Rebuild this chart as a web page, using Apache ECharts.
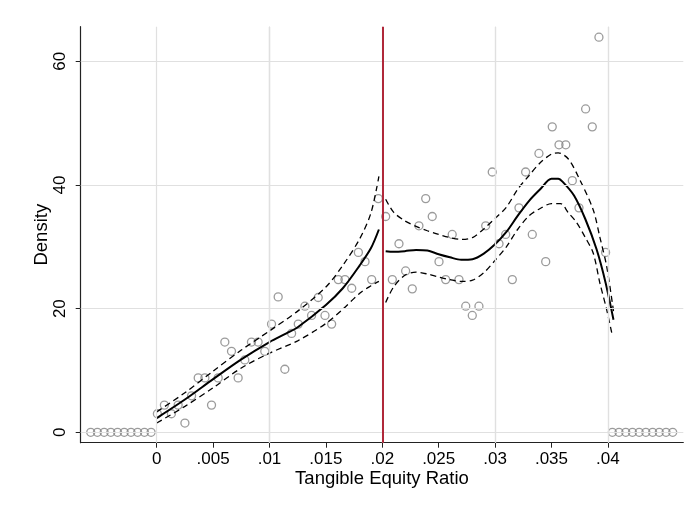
<!DOCTYPE html>
<html>
<head>
<meta charset="utf-8">
<script src="https://cdn.jsdelivr.net/npm/echarts@6/dist/echarts.min.js"></script>
<style>
html,body{margin:0;padding:0;background:#fff;}
#chart{width:690px;height:508px;}
</style>
</head>
<body>
<div id="chart"></div>
<script>
// ---- data ----
const xTicks = [0, 0.005, 0.01, 0.015, 0.02, 0.025, 0.03, 0.035, 0.04];
const xTickLabels = ['0', '.005', '.01', '.015', '.02', '.025', '.03', '.035', '.04'];
const yTicks = [0, 20, 40, 60];
const cutoff = 0.02;

const binX = [
  -0.00585, -0.00526, -0.00466, -0.00407, -0.00347, -0.00288, -0.00228, -0.00169, -0.00109, -0.0005,
  0.00006, 0.00068, 0.00130, 0.00190, 0.00250, 0.00309, 0.00368, 0.00427, 0.00486, 0.00545,
  0.00604, 0.00663, 0.00722, 0.00781, 0.00840, 0.00899, 0.00958, 0.01018, 0.01077, 0.01136,
  0.01196, 0.01255, 0.01314, 0.01373, 0.01432, 0.01492, 0.01551, 0.01610, 0.01669, 0.01729,
  0.01788, 0.01847, 0.01906, 0.01965,
  0.02030, 0.02089, 0.02148, 0.02207, 0.02266, 0.02325, 0.02385, 0.02443, 0.02503, 0.02562,
  0.02620, 0.02680, 0.02740, 0.02798, 0.02857, 0.02917, 0.02975, 0.03035, 0.03094, 0.03153,
  0.03212, 0.03271, 0.03330, 0.03389, 0.03449, 0.03507, 0.03567, 0.03627, 0.03685, 0.03744,
  0.03803, 0.03862, 0.03921, 0.03980,
  0.04040, 0.04099, 0.04159, 0.04218, 0.04278, 0.04337, 0.04397, 0.04456, 0.04516, 0.04575
];
const binY = [
  0, 0, 0, 0, 0, 0, 0, 0, 0, 0,
  3.0, 4.4, 3.0, 4.4, 1.5, 5.9, 8.8, 8.8, 4.4, 8.8,
  14.6, 13.1, 8.8, 11.7, 14.6, 14.6, 13.1, 17.5, 21.9, 10.2,
  16.0, 17.5, 20.4, 18.9, 21.8, 18.9, 17.5, 24.7, 24.7, 23.3,
  29.1, 27.6, 24.7, 37.8,
  34.9, 24.7, 30.5, 26.1, 23.2, 33.4, 37.8, 34.9, 27.6, 24.7,
  32.0, 24.7, 20.4, 18.9, 20.4, 33.4, 42.1, 30.5, 32.0, 24.7,
  36.3, 42.1, 32.0, 45.1, 27.6, 49.4, 46.5, 46.5, 40.7, 36.3,
  52.3, 49.4, 63.9, 29.1,
  0, 0, 0, 0, 0, 0, 0, 0, 0, 0
];

// left-of-cutoff fit and confidence band
const leftFitX   = [0, 0.0025, 0.005, 0.0075, 0.01, 0.0115, 0.0125, 0.015, 0.0165, 0.018, 0.019, 0.0197];
const leftFitY   = [2.3, 5.3, 8.6, 11.8, 14.6, 16.0, 17.0, 20.6, 23.3, 27.0, 29.8, 32.8];
const leftUpX    = [0, 0.0025, 0.005, 0.0075, 0.01, 0.0125, 0.015, 0.0165, 0.018, 0.019, 0.0197];
const leftUpY    = [3.3, 6.4, 9.9, 13.3, 16.4, 19.6, 23.5, 27.0, 31.3, 35.5, 41.4];
const leftLoY    = [1.5, 4.2, 7.2, 10.4, 12.8, 14.8, 17.6, 19.9, 22.5, 23.7, 24.4];

// right-of-cutoff fit and confidence band
const rightFitX  = [0.0203, 0.021, 0.022, 0.023, 0.024, 0.025, 0.026, 0.027, 0.028, 0.029, 0.030, 0.031, 0.032, 0.033, 0.034, 0.035, 0.0356, 0.036, 0.037, 0.038, 0.039, 0.0398, 0.0405];
const rightFitY  = [29.3, 29.2, 29.3, 29.5, 29.4, 28.8, 28.3, 27.9, 28.0, 28.9, 30.4, 32.4, 35.0, 37.4, 39.3, 41.0, 41.0, 40.5, 38.3, 34.5, 29.6, 24.2, 18.2];
const rightUpX   = [0.0203, 0.021, 0.022, 0.023, 0.024, 0.025, 0.026, 0.027, 0.028, 0.029, 0.030, 0.031, 0.032, 0.033, 0.034, 0.035, 0.0356, 0.0365, 0.0375, 0.0387, 0.0393, 0.0399, 0.0405];
const rightUpY   = [37.7, 35.6, 34.2, 33.3, 32.6, 32.0, 31.5, 31.2, 31.5, 32.9, 34.6, 36.4, 39.3, 41.5, 43.6, 45.0, 45.2, 44.2, 40.9, 36.0, 31.5, 26.8, 19.6];
const rightLoX   = [0.0203, 0.021, 0.022, 0.023, 0.024, 0.025, 0.026, 0.027, 0.028, 0.029, 0.030, 0.031, 0.032, 0.033, 0.034, 0.035, 0.0358, 0.0365, 0.0372, 0.038, 0.0387, 0.0393, 0.0399, 0.0404];
const rightLoY   = [21.0, 23.5, 25.4, 25.9, 25.6, 25.1, 24.7, 24.4, 24.6, 25.8, 27.8, 30.0, 32.8, 35.0, 36.2, 37.0, 37.0, 35.5, 34.0, 31.5, 29.0, 24.1, 19.8, 15.6];

// ---- build ----
const zip = (xs, ys) => xs.map((x, i) => [x, ys[i]]);
const FONT = '"Liberation Sans", Arial, sans-serif';

const gridLines = [];
yTicks.forEach(v => gridLines.push({ yAxis: v }));
xTicks.forEach(v => gridLines.push({ xAxis: v }));

const dashStyle = { color: '#000', width: 1.3, type: [6, 4] };

const chart = echarts.init(document.getElementById('chart'), null, { renderer: 'canvas' });
chart.setOption({
  animation: false,
  backgroundColor: '#fff',
  grid: { left: 80.7, right: 6.7, top: 26.7, bottom: 65.3, containLabel: false },
  xAxis: {
    type: 'value',
    min: -0.00674,
    max: 0.04669,
    name: 'Tangible Equity Ratio',
    nameLocation: 'middle',
    nameGap: 27,
    nameMoveOverlap: false,
    nameTextStyle: { fontFamily: FONT, fontSize: 18.5, color: '#000', verticalAlign: 'top' },
    axisLine: { show: true, onZero: false, lineStyle: { color: '#222', width: 1.2 } },
    axisTick: { show: true, length: 5, customValues: xTicks, lineStyle: { color: '#222', width: 1 } },
    axisLabel: {
      customValues: xTicks,
      margin: 8,
      fontFamily: FONT, fontSize: 17, color: '#000',
      formatter: v => { const i = xTicks.findIndex(t => Math.abs(t - v) < 1e-9); return i >= 0 ? xTickLabels[i] : ''; }
    },
    splitLine: { show: false }
  },
  yAxis: {
    type: 'value',
    min: -1.68,
    max: 65.6,
    name: 'Density',
    nameLocation: 'middle',
    nameGap: 29,
    nameRotate: 90,
    nameMoveOverlap: false,
    nameTextStyle: { fontFamily: FONT, fontSize: 18.5, color: '#000' },
    axisLine: { show: true, onZero: false, lineStyle: { color: '#222', width: 1.2 } },
    axisTick: { show: true, length: 5, customValues: yTicks, lineStyle: { color: '#222', width: 1 } },
    axisLabel: { customValues: yTicks, rotate: 90, margin: 12, fontFamily: FONT, fontSize: 17, color: '#000' },
    splitLine: { show: false }
  },
  series: [
    {
      type: 'line', data: [], z: 0, silent: true,
      markLine: {
        silent: true, symbol: ['none', 'none'], label: { show: false },
        lineStyle: { color: '#e0e0e0', width: 1.2, type: 'solid' },
        data: gridLines
      }
    },
    {
      type: 'scatter',
      data: zip(binX, binY),
      symbol: 'circle',
      symbolSize: 8,
      itemStyle: { color: 'rgba(0,0,0,0)', borderColor: '#828282', borderWidth: 1.3 },
      z: 2
    },
    { type: 'line', data: zip(leftFitX, leftFitY), showSymbol: false, smooth: 0.3, lineStyle: { color: '#000', width: 2 }, z: 3 },
    { type: 'line', data: zip(leftUpX, leftUpY), showSymbol: false, smooth: 0.3, lineStyle: dashStyle, z: 3 },
    { type: 'line', data: zip(leftUpX, leftLoY), showSymbol: false, smooth: 0.3, lineStyle: dashStyle, z: 3 },
    { type: 'line', data: zip(rightFitX, rightFitY), showSymbol: false, smooth: 0.3, lineStyle: { color: '#000', width: 2 }, z: 3 },
    { type: 'line', data: zip(rightUpX, rightUpY), showSymbol: false, smooth: 0.3, lineStyle: dashStyle, z: 3 },
    { type: 'line', data: zip(rightLoX, rightLoY), showSymbol: false, smooth: 0.3, lineStyle: dashStyle, z: 3 },
    {
      type: 'line', data: [], z: 4, silent: true,
      markLine: {
        silent: true, symbol: ['none', 'none'], label: { show: false },
        lineStyle: { color: '#b0283a', width: 2, type: 'solid' },
        data: [{ xAxis: cutoff }]
      }
    }
  ]
});
</script>
</body>
</html>
